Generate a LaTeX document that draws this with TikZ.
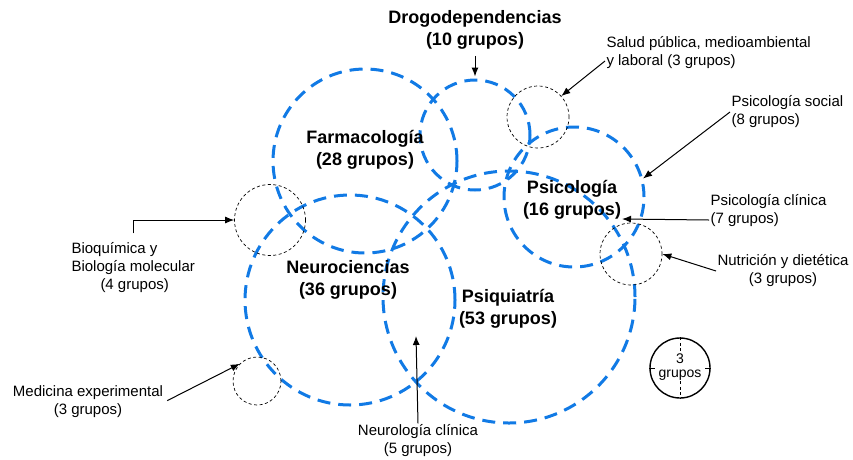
\documentclass[tikz,border=0pt]{standalone}
\usepackage{fontspec}
\setmainfont{Liberation Sans}
\usetikzlibrary{arrows.meta,positioning}
\definecolor{areablue}{RGB}{17,122,229}

\begin{document}
\begin{tikzpicture}[x=1pt,y=-1pt,>={Latex[length=9pt,width=7pt]},line width=1pt]
  \tikzstyle{area}=[circle,draw=areablue,line width=3pt,dash pattern=on 13pt off 8pt,inner sep=0pt]
  \tikzstyle{sub}=[circle,draw=black,line width=0.7pt,dash pattern=on 3pt off 2.5pt,inner sep=0pt]
  \tikzstyle{big}=[font=\fontsize{18}{22}\selectfont\bfseries,align=center,inner sep=0pt]
  \tikzstyle{small}=[font=\fontsize{15}{18}\selectfont,inner sep=1pt]

  \useasboundingbox (0,0) rectangle (853,459);

  % areas
  \node[area,minimum size=184pt] (farma)  at (365,161) {};
  \node[area,minimum size=110pt] (drogo)  at (475,135) {};
  \node[area,minimum size=140pt] (psico)  at (574,197) {};
  \node[area,minimum size=210pt] (neuro)  at (350,300) {};
  \node[area,minimum size=252pt] (psiq)   at (509,297) {};

  % sub-areas
  \node[sub,minimum size=62pt] (salud)  at (538,117) {};
  \node[sub,minimum size=71pt] (bioq)   at (270,220) {};
  \node[sub,minimum size=62pt] (nutri)  at (631,254) {};
  \node[sub,minimum size=48pt] (medexp) at (257,381) {};

  % area labels
  \node[big] (drogolbl) at (475,30)  {Drogodependencias\\(10 grupos)};
  \node[big] (farmalbl) at (365,150) {Farmacología\\(28 grupos)};
  \node[big] (psicolbl) at (572,200) {Psicología\\(16 grupos)};
  \node[big] (neurolbl) at (348,280) {Neurociencias\\(36 grupos)};
  \node[big] (psiqlbl)  at (508,309) {Psiquiatría\\(53 grupos)};

  % sub-area labels
  \node[small,anchor=west,align=left]  (saludlbl)   at (605,53)  {Salud pública, medioambiental\\y laboral (3 grupos)};
  \node[small,anchor=west,align=left]  (psisoclbl)  at (730,112) {Psicología social\\(8 grupos)};
  \node[small,anchor=west,align=left]  (psiclinlbl) at (709,211) {Psicología clínica\\(7 grupos)};
  \node[small,align=center]            (nutrilbl)   at (783,271) {Nutrición y dietética\\(3 grupos)};
  \node[small,anchor=west,align=left]  (bioqlbl)    at (70,268)  {Bioquímica y\\Biología molecular\\\hspace*{29pt}(4 grupos)};
  \node[small,align=center]            (medlbl)     at (88,402)  {Medicina experimental\\(3 grupos)};
  \node[small,align=center]            (neurollbl)  at (418,441) {Neurología clínica\\(5 grupos)};

  \coordinate (clintip)  at (622,219);
  \coordinate (neurotip) at (416,336);

  % arrows
  \draw[->,shorten <=6pt,shorten >=2pt] (drogolbl.south) -- (drogo.north);
  \draw[->] ([yshift=-8pt]saludlbl.west) -- (salud.42);
  \draw[->] (psisoclbl.west) -- (psico.15);
  \draw[->] ([yshift=-9pt]psiclinlbl.west) -- (clintip);
  \draw[->] (nutrilbl.west) -- (nutri.east);
  \draw[->] ([yshift=8pt]bioqlbl.north) |- (bioq.west);
  \draw[->,shorten <=3pt] (medlbl.east) -- (medexp.135);
  \draw[->] (neurollbl.north) -- (neurotip);

  % legend
  \node[circle,draw,line width=1.4pt,minimum size=60pt,inner sep=0pt] (leyenda) at (680,368) {};
  \draw[line width=0.8pt,dash pattern=on 3pt off 2.5pt] (leyenda.north) -- (leyenda.south);
  \draw[line width=0.8pt] (leyenda.west) -- ++(6,0);
  \draw[line width=0.8pt] (leyenda.east) -- ++(-6,0);
  \node[font=\fontsize{14}{14}\selectfont,align=center,fill=white,inner sep=0.5pt] (leytxt) at (680,367) {3\\grupos};
\end{tikzpicture}
\end{document}
